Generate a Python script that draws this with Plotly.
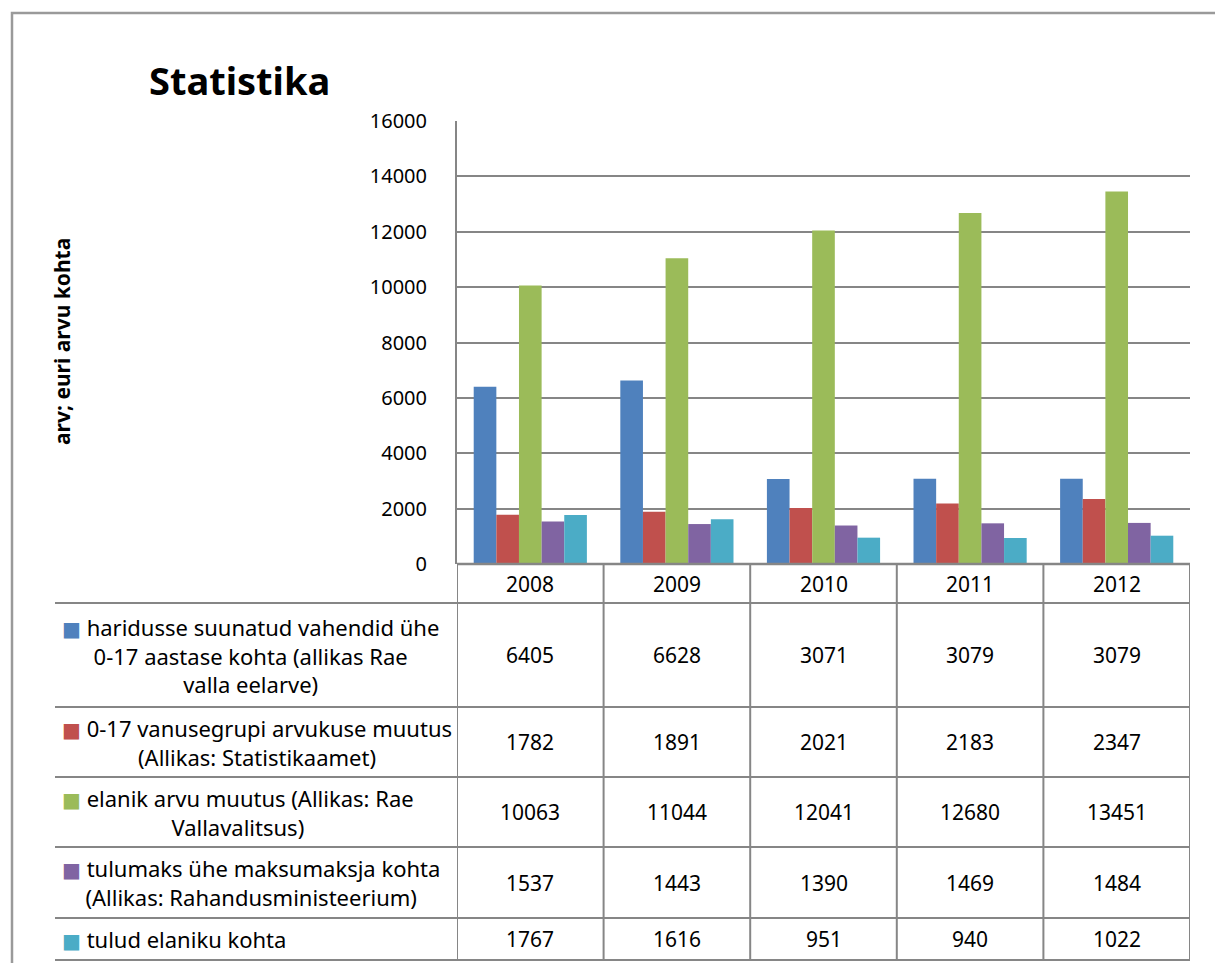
import plotly.graph_objects as go

W, H = 1215, 963

years = ["2008", "2009", "2010", "2011", "2012"]
series_names = [
    "haridusse suunatud vahendid ühe\n0-17 aastase kohta (allikas Rae\nvalla eelarve)",
    "0-17 vanusegrupi arvukuse muutus\n(Allikas: Statistikaamet)",
    "elanik arvu muutus (Allikas: Rae\nVallavalitsus)",
    "tulumaks ühe maksumaksja kohta\n(Allikas: Rahandusministeerium)",
    "tulud elaniku kohta",
]
haridus = [6405, 6628, 3071, 3079, 3079]
vanusegrupp = [1782, 1891, 2021, 2183, 2347]
elanikud = [10063, 11044, 12041, 12680, 13451]
tulumaks = [1537, 1443, 1390, 1469, 1484]
tulud = [1767, 1616, 951, 940, 1022]
series_values = [haridus, vanusegrupp, elanikud, tulumaks, tulud]
colors = ["#4F81BD", "#C0504D", "#9BBB59", "#8064A2", "#4BACC6"]
y_ticks = [0, 2000, 4000, 6000, 8000, 10000, 12000, 14000, 16000]

def px(x):
    return x / W

def py(y):
    return 1 - y / H

FONT = "Noto Sans, Open Sans, DejaVu Sans, sans-serif"
GRID = "#868686"

fig = go.Figure()
for name, vals, col in zip(series_names, series_values, colors):
    fig.add_trace(go.Bar(x=years, y=vals, name=name.replace("\n", " "),
                         marker=dict(color=col, line=dict(width=0)),
                         showlegend=False))

plot_left, plot_right = 457, 1190
plot_top, plot_bottom = 121, 564

fig.update_layout(
    width=W, height=H,
    margin=dict(l=0, r=0, t=0, b=0, autoexpand=False),
    paper_bgcolor="white", plot_bgcolor="white",
    barmode="group", bargap=0.228, bargroupgap=0,
    font=dict(family=FONT, color="#000000"),
    xaxis=dict(domain=[px(plot_left), px(plot_right)], type="category",
               categoryorder="array", categoryarray=years,
               range=[-0.5, len(years) - 0.5], automargin=False,
               showticklabels=False, showgrid=False, zeroline=False,
               showline=False, ticks=""),
    yaxis=dict(domain=[py(plot_bottom), py(plot_top)], range=[0, 16000],
               tickvals=y_ticks, ticktext=[str(v) for v in y_ticks],
               tickfont=dict(size=20, family=FONT, color="#000"),
               ticklabelstandoff=24, automargin=False,
               showgrid=True, gridcolor=GRID, gridwidth=1.5,
               zeroline=False, showline=True, linecolor=GRID, linewidth=2,
               ticks=""),
)

shapes = []
# outer frame
shapes.append(dict(type="rect", xref="paper", yref="paper",
                   x0=px(12), x1=px(1225), y0=py(980), y1=py(13),
                   line=dict(color="#9a9a9a", width=2.5), fillcolor="rgba(0,0,0,0)"))
# zero line / top of table header
shapes.append(dict(type="line", xref="paper", yref="paper",
                   x0=px(plot_left), x1=px(plot_right), y0=py(plot_bottom), y1=py(plot_bottom),
                   line=dict(color=GRID, width=2.5)))
row_lines = [603, 707, 777, 847, 918, 960]
for yl in row_lines:
    shapes.append(dict(type="line", xref="paper", yref="paper",
                       x0=px(55), x1=px(plot_right), y0=py(yl), y1=py(yl),
                       line=dict(color=GRID, width=2)))
for i in range(len(years) + 1):
    shapes.append(dict(type="line", xref="x", yref="paper",
                       x0=i - 0.5, x1=i - 0.5, y0=py(plot_bottom), y1=py(960),
                       line=dict(color=GRID, width=2)))

annotations = []
annotations.append(dict(text="<b>Statistika</b>", xref="paper", yref="paper",
                        x=px(239), y=py(80), xanchor="center", yanchor="middle",
                        showarrow=False,
                        font=dict(size=38, family=FONT, color="#000")))
annotations.append(dict(text="<b>arv; euri arvu kohta</b>", xref="paper", yref="paper",
                        x=px(62), y=py(342), xanchor="center", yanchor="middle",
                        showarrow=False, textangle=-90,
                        font=dict(size=21, family=FONT, color="#000")))
for i, yr in enumerate(years):
    annotations.append(dict(text=yr, xref="x", yref="paper", x=i, y=py(584),
                            xanchor="center", yanchor="middle",
                            showarrow=False, font=dict(size=21, family=FONT, color="#000")))

row_bounds = [(603, 707), (707, 777), (777, 847), (847, 918), (918, 960)]
for (y0, y1), name, vals, col in zip(row_bounds, series_names, series_values, colors):
    yc = (y0 + y1) / 2
    label = ('<span style="color:%s;font-size:20px">■</span> ' % col
             + name.replace("\n", "<br>"))
    annotations.append(dict(text=label, xref="paper", yref="paper",
                            x=px(60), y=py(yc), xanchor="left", yanchor="middle",
                            showarrow=False, align="center",
                            font=dict(size=22, family=FONT, color="#000")))
    for i, v in enumerate(vals):
        annotations.append(dict(text=str(v), xref="x", yref="paper", x=i, y=py(yc),
                                xanchor="center", yanchor="middle",
                                showarrow=False, font=dict(size=21, family=FONT, color="#000")))

fig.update_layout(shapes=shapes, annotations=annotations)
fig.write_html("out.html", config={"displayModeBar": False},
               post_script="document.body.style.margin='0';")
